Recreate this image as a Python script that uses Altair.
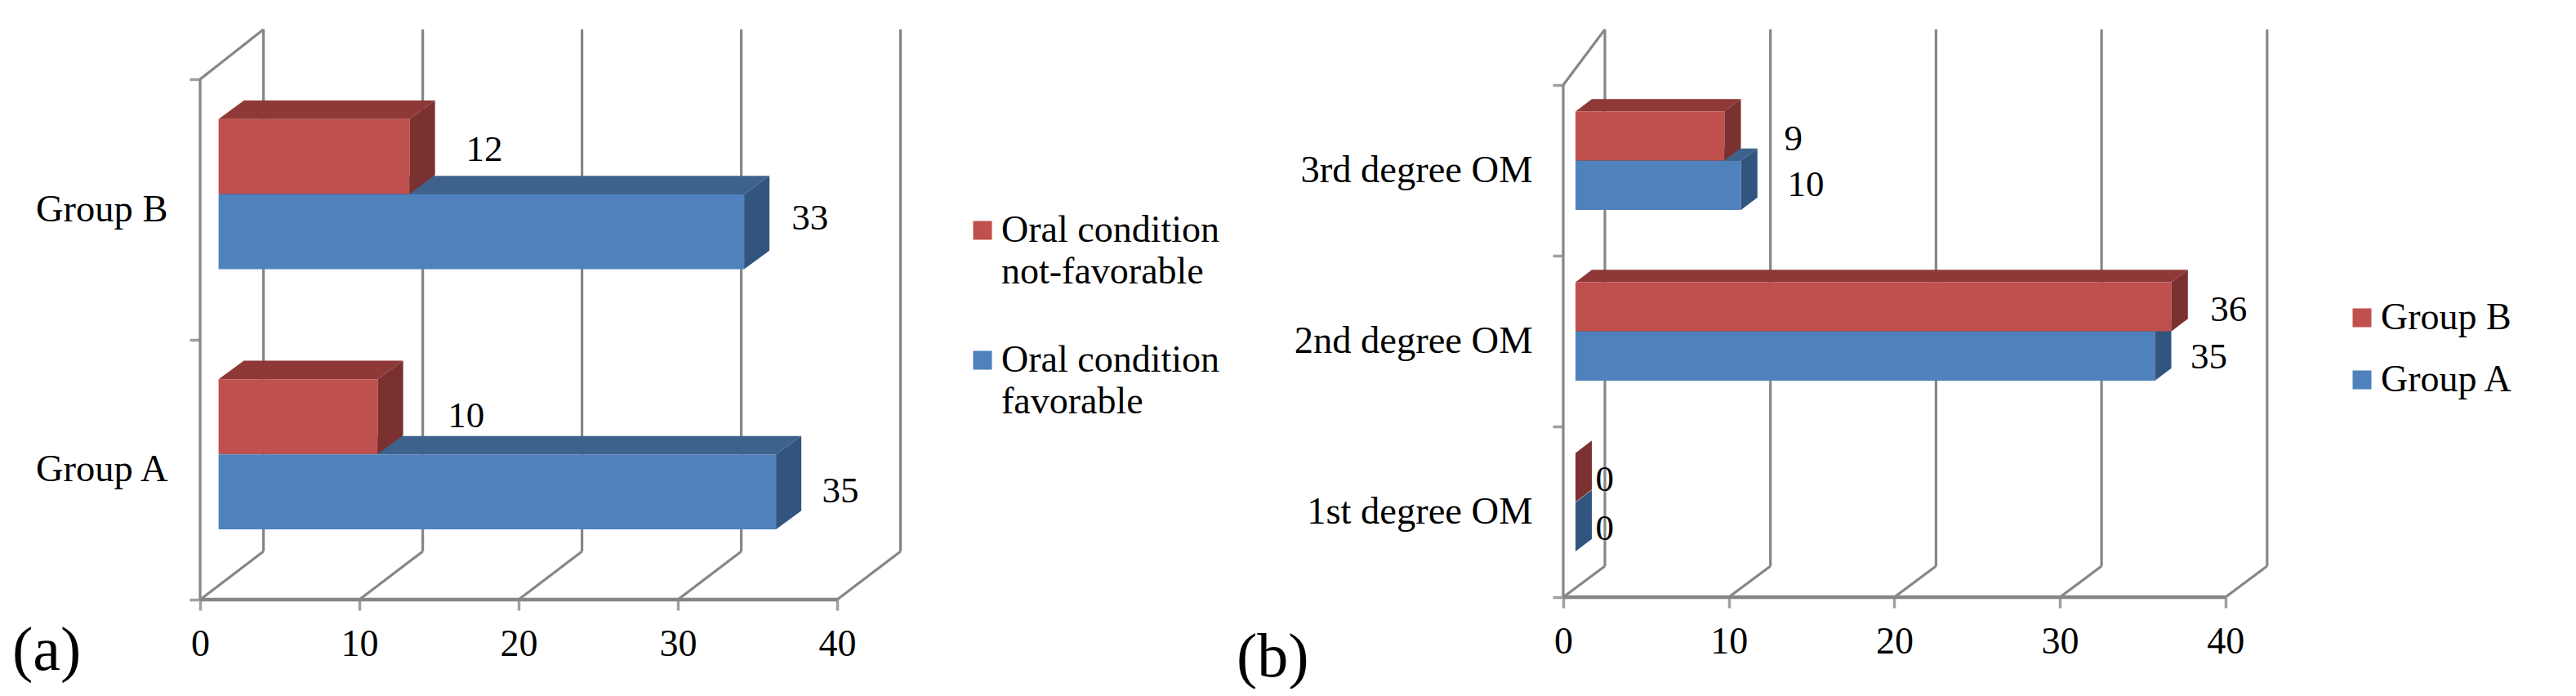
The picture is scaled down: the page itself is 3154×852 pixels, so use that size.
import altair as alt
import pandas as pd

# ---------- values ----------
GROUPS_A = ["Group A", "Group B"]
NOT_FAV = [10, 12]
FAV = [35, 33]
SERIES_A = ["Oral condition not-favorable", "Oral condition favorable"]

DEGREES = ["1st degree OM", "2nd degree OM", "3rd degree OM"]
GROUP_B_VALS = [0, 36, 9]
GROUP_A_VALS = [0, 35, 10]
SERIES_B = ["Group B", "Group A"]
TICKS = [0, 10, 20, 30, 40]

FONT = "Liberation Serif"
GRAY = "#868686"
TICK_GRAY = "#A0A0A0"
RED = ("#C0504D", "#8E3937", "#7A312F")
BLUE = ("#4F81BD", "#3E628E", "#32557F")


def panel(cats, red_vals, blue_vals, series, geo, legend, tag):
    w, h = geo["w"], geo["h"]
    xmax, ymax = geo["xmax"], geo["ymax"]
    bx, by = geo["bx"], geo["by"]
    off, dx, dy = geo["off"], geo["dx"], geo["dy"]
    n = len(cats)
    xs = alt.Scale(domain=[0, xmax], nice=False, zero=False)
    ys = alt.Scale(domain=[0, ymax], nice=False, zero=False)
    xaxis = alt.Axis(
        values=TICKS, domain=False, grid=False, tickSize=13, tickWidth=3.5,
        tickColor=TICK_GRAY, labelFont=FONT, labelFontSize=46, labelColor="black",
        labelPadding=geo["xpad"], labelFlush=False, labelOverlap=False, title=None)
    yaxis = alt.Axis(
        values=[i / 2 for i in range(2 * n + 1)], domain=False, grid=False,
        tickSize=13, tickWidth=3.5, tickColor=TICK_GRAY,
        tickOpacity={"condition": {"test": "datum.value % 1 == 0", "value": 1}, "value": 0},
        labelFont=FONT, labelFontSize=46.5, labelColor="black",
        labelPadding=geo["ypad"], labelLimit=600, labelOverlap=False, labelFlush=False,
        title=None,
        labelExpr="datum.value % 1 == 0 ? '' : " + str(cats) + "[floor(datum.value)]")
    X = alt.X("x:Q", scale=xs, axis=xaxis)
    Y = alt.Y("y:Q", scale=ys, axis=yaxis)

    # frame
    lines = []
    for v in TICKS:
        lines.append(dict(x=v, x2=v + bx, y=0, y2=by))
        lines.append(dict(x=v + bx, x2=v + bx, y=by, y2=ymax))
    lines.append(dict(x=0, x2=0, y=0, y2=n))
    lines.append(dict(x=0, x2=bx, y=n, y2=ymax))
    frame = alt.Chart(pd.DataFrame(lines)).mark_rule(color=GRAY, strokeWidth=3.2).encode(
        x=X, x2="x2:Q", y=Y, y2="y2:Q")
    floor = alt.Chart(pd.DataFrame({"x": [0], "x2": [40], "y": [0]})).mark_rule(
        color=GRAY, strokeWidth=4.5).encode(x=X, x2="x2:Q", y=Y)

    fronts, tops, sides, labels = [], [], [], []
    for s, vals, bot in [(1, blue_vals, geo["b0"]), (0, red_vals, geo["b1"])]:
        for i, v in enumerate(vals):
            lo, hi = i + bot, i + bot + geo["bh"]
            fid = f"{s}-{i}"
            tops += [dict(id=fid, s=s, y=hi, x=off, x2=off + v),
                     dict(id=fid, s=s, y=hi + dy, x=off + dx, x2=off + v + dx)]
            sides += [dict(id=fid, s=s, x=off + v, y=lo, y2=hi),
                      dict(id=fid, s=s, x=off + v + dx, y=lo + dy, y2=hi + dy)]
            fronts.append(dict(s=s, x=off, x2=off + v, y=lo, y2=hi, series=series[s]))
            labels.append(dict(v=v, x=v + geo["nudge"][s][i], y=i + geo["ly"][s][i]))

    layers = [frame, floor]
    fdf, tdf, sdf = pd.DataFrame(fronts), pd.DataFrame(tops), pd.DataFrame(sides)
    for s, col in [(1, BLUE), (0, RED)]:
        layers.append(alt.Chart(tdf[tdf.s == s]).mark_area(orient="horizontal", color=col[1]).encode(
            y=Y, x=X, x2="x2:Q", detail="id:N"))
        layers.append(alt.Chart(fdf[fdf.s == s]).mark_bar().encode(
            x=X, x2="x2:Q", y=Y, y2="y2:Q",
            color=alt.Color("series:N", scale=alt.Scale(domain=series, range=[RED[0], BLUE[0]]),
                            legend=legend)))
        layers.append(alt.Chart(sdf[sdf.s == s]).mark_area(orient="vertical", color=col[2]).encode(
            x=X, y=Y, y2="y2:Q", detail="id:N"))

    layers.append(alt.Chart(pd.DataFrame(labels)).mark_text(
        font=FONT, fontSize=45, color="black").encode(x=X, y=Y, text="v:Q"))
    layers.append(alt.Chart(pd.DataFrame({"t": [tag["text"]]})).mark_text(
        font=FONT, fontSize=76, color="black", align="left", baseline="middle", clip=False).encode(
        x=alt.value(tag["x"]), y=alt.value(tag["y"]), text="t:N"))
    return alt.layer(*layers).properties(width=w, height=h)


geo_a = dict(w=858, h=698, xmax=858 / 19.5, ymax=698 / 318.5, bx=3.98, by=0.185,
             off=1.16, dx=1.59, dy=0.0716, b0=0.27, b1=0.56, bh=0.287,
             ly=((0.705, 0.73), (0.418, 0.466)), nudge=((6.7, 5.85), (5.2, 5.3)), xpad=19, ypad=27)
geo_b = dict(w=862, h=695, xmax=862 / 20.27, ymax=695 / 209, bx=2.516, by=0.182,
             off=0.74, dx=0.99, dy=0.073, b0=0.268, b1=0.557, bh=0.287,
             ly=((0.69, 0.685, 0.685), (0.40, 0.405, 0.415)),
             nudge=((2.5, 4.2, 4.9), (2.5, 4.0, 4.65)), xpad=19, ypad=25)

leg_a = alt.Legend(orient="none", legendX=935, legendY=223, title=None, padding=0,
                   symbolType="square", symbolSize=529, symbolStrokeWidth=0, labelOffset=0,
                   labelFont=FONT, labelFontSize=46, labelColor="black", labelLimit=600,
                   rowPadding=62,
                   labelExpr="['Oral condition', slice(datum.label, 15)]")
leg_b = alt.Legend(orient="none", legendX=955, legendY=330, title=None, padding=0,
                   symbolType="square", symbolSize=529, symbolStrokeWidth=0, labelOffset=0,
                   labelFont=FONT, labelFontSize=46, labelColor="black", labelLimit=600,
                   rowPadding=30)

left = panel(GROUPS_A, NOT_FAV, FAV, SERIES_A, geo_a, leg_a, dict(text="(a)", x=-230, y=761))
right = panel(DEGREES, GROUP_B_VALS, GROUP_A_VALS, SERIES_B, geo_b, leg_b, dict(text="(b)", x=-400, y=769))

chart = (
    alt.hconcat(left, right, spacing=811, bounds="flush")
    .resolve_scale(color="independent")
    .properties(padding={"left": 7, "top": 26, "right": 0, "bottom": 0})
    .configure(background="white", view={"stroke": None},
               style={"guide-label": {"lineHeight": 51}})
)
chart.save("out.html", embed_options={"renderer": "svg", "actions": False})
